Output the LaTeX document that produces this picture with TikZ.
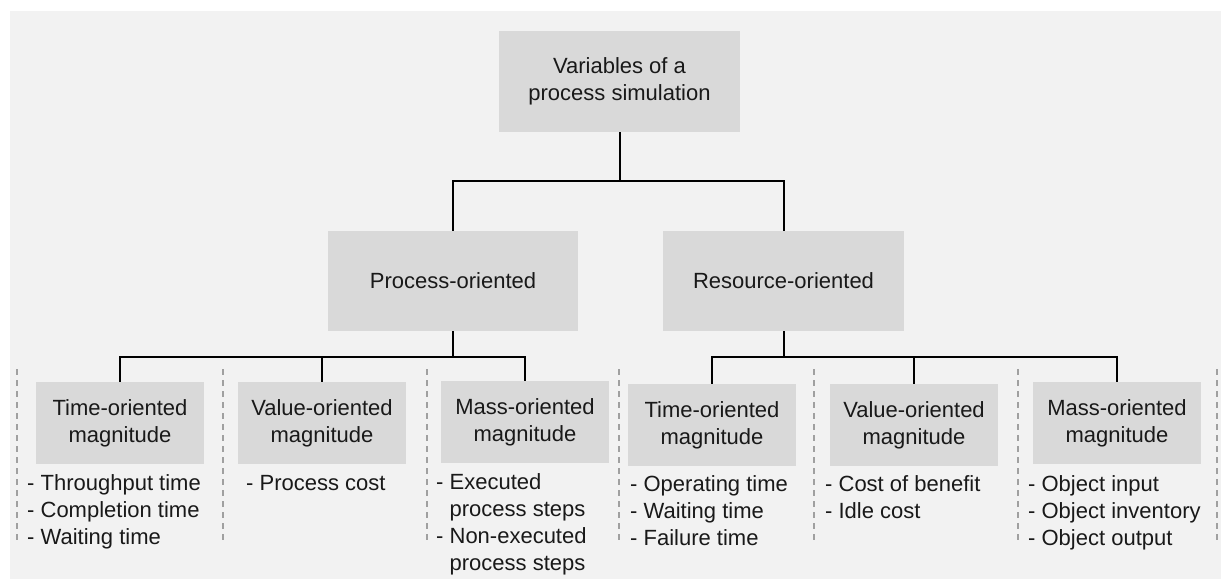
\documentclass[tikz,border=0pt]{standalone}
\usepackage{fontspec}
\setmainfont{Liberation Sans}
\definecolor{bgpanel}{HTML}{F2F2F2}
\definecolor{boxfill}{HTML}{D9D9D9}
\definecolor{sepgray}{HTML}{A0A0A0}
\begin{document}
\begin{tikzpicture}[x=1pt,y=-1pt,
  txt/.style={font=\fontsize{22}{27}\selectfont, text=black!90},
  box/.style={txt, fill=boxfill, draw=none, inner sep=0pt, align=center},
  mainbox/.style={box, minimum height=101pt},
  midbox/.style={box, minimum height=100pt},
  magbox/.style={box, minimum width=168pt, minimum height=82pt},
  items/.style={txt, anchor=north west, inner sep=0pt, align=left},
  link/.style={draw=black, line width=2pt},
  sep/.style={draw=sepgray, line width=1.3pt, dash pattern=on 6pt off 5pt}
]
\useasboundingbox (0,0) rectangle (1226,579);
\fill[bgpanel] (10,11) rectangle (1221,579);

% hierarchy boxes
\node[mainbox, minimum width=241pt] (var) at (619.5,81.5) {Variables of a\\process simulation};
\node[midbox, minimum width=250pt] (proc) at (453,281) {Process-oriented};
\node[midbox, minimum width=241pt] (res) at (783.5,281) {Resource-oriented};

\node[magbox] (pt) at (120,423) {Time-oriented\\magnitude};
\node[magbox] (pv) at (322,423) {Value-oriented\\magnitude};
\node[magbox] (pm) at (525,422) {Mass-oriented\\magnitude};
\node[magbox] (rt) at (712,425) {Time-oriented\\magnitude};
\node[magbox] (rv) at (914,425) {Value-oriented\\magnitude};
\node[magbox] (rm) at (1117,423) {Mass-oriented\\magnitude};

% junction levels
\coordinate (j0) at (619,181);
\coordinate (jp) at (453,357);
\coordinate (jr) at (783.5,357);

% tree connectors
\draw[link] (var.south) -- (var.south |- j0);
\draw[link] (proc.north) -- (proc.north |- j0) -- (res.north |- j0) -- (res.north);
\draw[link] (proc.south) -- (proc.south |- jp);
\draw[link] (pt.north) -- (pt.north |- jp) -- (pm.north |- jp) -- (pm.north);
\draw[link] (pv.north) -- (pv.north |- jp);
\draw[link] (res.south) -- (res.south |- jr);
\draw[link] (rt.north) -- (rt.north |- jr) -- (rm.north |- jr) -- (rm.north);
\draw[link] (rv.north) -- (rv.north |- jr);

% column separators
\foreach \sx in {17,223,427,619,814,1018,1217}
  \draw[sep] (\sx,369) -- (\sx,543);

% variable lists
\node[items] (ptl) at (27,471) {\strut- Throughput time\\- Completion time\\- Waiting time};
\node[items] (pvl) at (246,471) {\strut- Process cost};
\node[items] (pml) at (436,470) {\strut- Executed\\\phantom{- }process steps\\- Non-executed\\\phantom{- }process steps};
\node[items] (rtl) at (630,472) {\strut- Operating time\\- Waiting time\\- Failure time};
\node[items] (rvl) at (825,472) {\strut- Cost of benefit\\- Idle cost};
\node[items] (rml) at (1028,472) {\strut- Object input\\- Object inventory\\- Object output};
\end{tikzpicture}
\end{document}
